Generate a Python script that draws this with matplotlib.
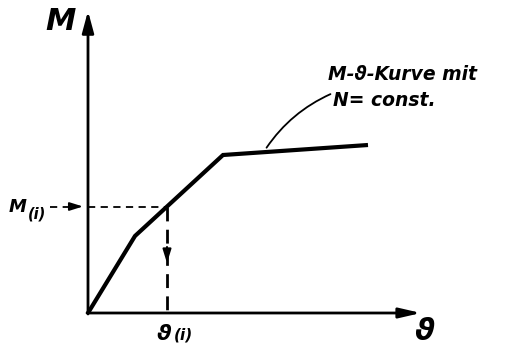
import matplotlib
matplotlib.use("Agg")
import matplotlib.pyplot as plt
from matplotlib.patches import FancyArrowPatch

# M-theta curve (trilinear), arbitrary units
theta = [0, 47, 135, 280]
moment = [0, 77, 158, 168]
theta_i = 79
moment_i = 106.5

fig = plt.figure(figsize=(5.23, 3.49), dpi=100)
ax = fig.add_axes([0, 0, 1, 1])
ax.set_xlim(-88, 435)
ax.set_ylim(-36, 313)
ax.axis("off")

fp = dict(family="DejaVu Sans", style="italic", weight="bold", color="black")

# axes with arrows
ax.annotate("", xy=(0, 302), xytext=(0, -1),
            arrowprops=dict(arrowstyle="-|>,head_length=1.3,head_width=0.35", lw=2, color="black",
                            shrinkA=0, shrinkB=0))
ax.annotate("", xy=(333, 0), xytext=(-1, 0),
            arrowprops=dict(arrowstyle="-|>,head_length=1.3,head_width=0.3", lw=2, color="black",
                            shrinkA=0, shrinkB=0))

# curve
ax.plot(theta, moment, color="black", lw=3, solid_capstyle="butt", solid_joinstyle="miter")

# dashed guides
ax.plot([0, theta_i], [moment_i, moment_i], color="black", lw=1.3, dashes=(4, 3))
ax.plot([theta_i, theta_i], [moment_i, 0], color="black", lw=2, dashes=(5, 3))
ax.annotate("", xy=(theta_i, 50), xytext=(theta_i, 66),
            arrowprops=dict(arrowstyle="-|>,head_length=0.8,head_width=0.25", lw=1.5, color="black",
                            shrinkA=0, shrinkB=0))
ax.plot([-38, -16], [moment_i, moment_i], color="black", lw=1.3, dashes=(4, 3))
ax.annotate("", xy=(-5, moment_i), xytext=(-14, moment_i),
            arrowprops=dict(arrowstyle="-|>,head_length=0.8,head_width=0.25", lw=1.3, color="black",
                            shrinkA=0, shrinkB=0))

# leader line
ax.add_patch(FancyArrowPatch((177, 163), (245, 220), arrowstyle="-",
                             connectionstyle="arc3,rad=-0.15", lw=1.3, color="black"))

# labels
ax.text(-27, 292, "M", fontsize=22, ha="center", va="center", **fp)
ax.text(337, -19, "ϑ", fontsize=22, ha="center", va="center", **fp)
ax.text(-70, 106, "M", fontsize=13, ha="center", va="center", **fp)
ax.text(-51, 99, "(i)", fontsize=10.5, ha="center", va="center", **fp)
ax.text(76, -21, "ϑ", fontsize=16, ha="center", va="center", **fp)
ax.text(95, -22, "(i)", fontsize=11, ha="center", va="center", **fp)
ax.text(240, 239, "M-ϑ-Kurve mit", fontsize=13.5, ha="left", va="center", **fp)
ax.text(245, 213, "N= const.", fontsize=13.5, ha="left", va="center", **fp)

fig.savefig("out.png", dpi=100)
